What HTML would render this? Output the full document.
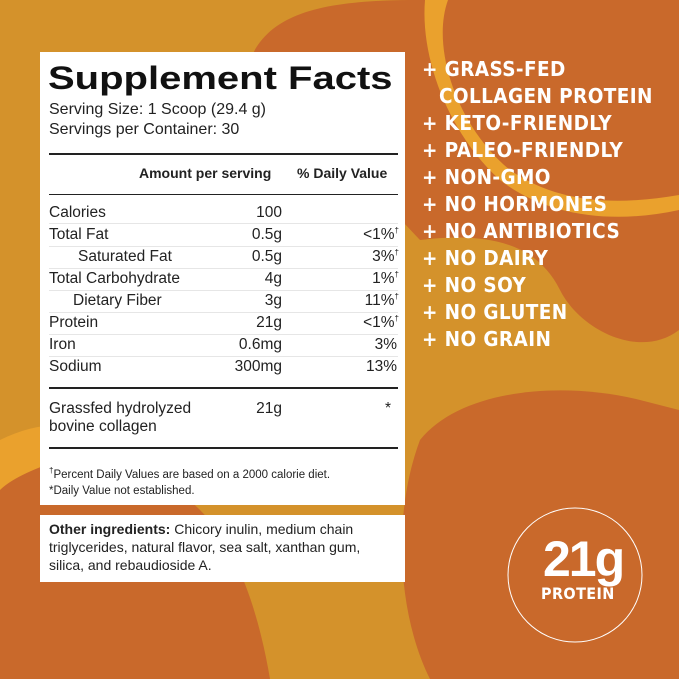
<!DOCTYPE html>
<html><head><style>
body{margin:0;width:679px;height:679px;overflow:hidden;font-family:"Liberation Sans",sans-serif;}
.bg{position:absolute;left:0;top:0}
.box{position:absolute;background:#fff;left:40px;width:365px;}
.t{position:absolute;color:#222;font-size:15.5px;white-space:nowrap}
.hl{position:absolute;left:49px;width:349px;background:#222}
.sl{position:absolute;left:49px;width:349px;height:1px;background:#e6e6e6}
.c{position:absolute;left:422px;color:#fff;font-weight:bold;font-size:20.5px;white-space:nowrap;font-family:"DejaVu Sans Condensed","Liberation Sans",sans-serif;letter-spacing:0.4px}
sup{font-size:8px}
</style></head><body>
<svg class="bg" width="679" height="679">
<rect width="679" height="679" fill="#D4922B"/>
<path d="M250,60 C270,10 330,0 420,0 L679,0 L679,330 C640,360 580,330 560,290 C540,250 500,230 420,240 Z" fill="#C9692B"/>
<path d="M425,0 L448,0 C430,50 460,130 510,170 C560,205 620,205 679,195 L679,210 C610,225 545,215 500,180 C450,135 420,60 425,0 Z" fill="#EAA12D"/>
<path d="M420,440 C460,390 560,380 640,400 L679,410 L679,679 L430,679 C400,620 390,520 420,440 Z" fill="#C9692B"/>
<path d="M0,460 C60,430 150,460 200,510 C240,550 260,620 270,679 L0,679 Z" fill="#C9692B"/>
<path d="M0,440 C40,420 80,420 110,440 L60,460 C30,470 10,480 0,490 Z" fill="#EAA12D"/>
<circle cx="575" cy="575" r="67" fill="none" stroke="#fff" stroke-width="1"/>
</svg>
<div class="box" style="top:52px;height:453px"></div>
<div class="box" style="top:515px;height:67px"></div>
<div class="t" style="left:48px;top:60px;font-size:32px;font-weight:bold;color:#111;transform:scaleX(1.25);transform-origin:left top">Supplement Facts</div>
<div class="t" style="left:49px;top:101px;font-size:16px">Serving Size: 1 Scoop (29.4 g)</div>
<div class="t" style="left:49px;top:121px;font-size:16px">Servings per Container: 30</div>
<div class="hl" style="top:153px;height:2px"></div>
<div class="t" style="left:139px;top:165px;font-size:14px;font-weight:bold">Amount per serving</div>
<div class="t" style="left:297px;top:165px;font-size:14px;font-weight:bold">% Daily Value</div>
<div class="hl" style="top:194px;height:1px"></div>
<div class="t" style="left:49px;top:204px">Calories</div><div class="t" style="right:397px;top:204px">100</div>
<div class="sl" style="top:223px"></div>
<div class="t" style="left:49px;top:226px">Total Fat</div><div class="t" style="right:397px;top:226px">0.5g</div><div class="t" style="right:280px;top:226px">&lt;1%<sup>†</sup></div>
<div class="sl" style="top:246px"></div>
<div class="t" style="left:78px;top:248px">Saturated Fat</div><div class="t" style="right:397px;top:248px">0.5g</div><div class="t" style="right:280px;top:248px">3%<sup>†</sup></div>
<div class="sl" style="top:268px"></div>
<div class="t" style="left:49px;top:270px">Total Carbohydrate</div><div class="t" style="right:397px;top:270px">4g</div><div class="t" style="right:280px;top:270px">1%<sup>†</sup></div>
<div class="sl" style="top:290px"></div>
<div class="t" style="left:73px;top:292px">Dietary Fiber</div><div class="t" style="right:397px;top:292px">3g</div><div class="t" style="right:280px;top:292px">11%<sup>†</sup></div>
<div class="sl" style="top:312px"></div>
<div class="t" style="left:49px;top:314px">Protein</div><div class="t" style="right:397px;top:314px">21g</div><div class="t" style="right:280px;top:314px">&lt;1%<sup>†</sup></div>
<div class="sl" style="top:334px"></div>
<div class="t" style="left:49px;top:336px">Iron</div><div class="t" style="right:397px;top:336px">0.6mg</div><div class="t" style="right:282px;top:336px">3%</div>
<div class="sl" style="top:356px"></div>
<div class="t" style="left:49px;top:358px">Sodium</div><div class="t" style="right:397px;top:358px">300mg</div><div class="t" style="right:282px;top:358px">13%</div>
<div class="hl" style="top:387px;height:2px"></div>
<div class="t" style="left:49px;top:400px;line-height:18px">Grassfed hydrolyzed<br>bovine collagen</div>
<div class="t" style="right:397px;top:400px">21g</div><div class="t" style="right:288px;top:400px">*</div>
<div class="hl" style="top:447px;height:2px"></div>
<div class="t" style="left:49px;top:463px;font-size:11.5px;line-height:16px"><sup>†</sup>Percent Daily Values are based on a 2000 calorie diet.<br>*Daily Value not established.</div>
<div class="t" style="left:49px;top:520px;font-size:14px;line-height:18px"><b>Other ingredients:</b> Chicory inulin, medium chain<br>triglycerides, natural flavor, sea salt, xanthan gum,<br>silica, and rebaudioside A.</div>
<div class="c" style="top:57px">+ GRASS-FED</div>
<div class="c" style="top:84px;left:439px">COLLAGEN PROTEIN</div>
<div class="c" style="top:111px">+ KETO-FRIENDLY</div>
<div class="c" style="top:138px">+ PALEO-FRIENDLY</div>
<div class="c" style="top:165px">+ NON-GMO</div>
<div class="c" style="top:192px">+ NO HORMONES</div>
<div class="c" style="top:219px">+ NO ANTIBIOTICS</div>
<div class="c" style="top:246px">+ NO DAIRY</div>
<div class="c" style="top:273px">+ NO SOY</div>
<div class="c" style="top:300px">+ NO GLUTEN</div>
<div class="c" style="top:327px">+ NO GRAIN</div>
<div class="c" style="top:530px;left:543px;font-size:50px;letter-spacing:-2px;font-family:'Liberation Sans',sans-serif">21g</div>
<div class="c" style="top:584px;left:541px;font-size:16px">PROTEIN</div>
</body></html>
